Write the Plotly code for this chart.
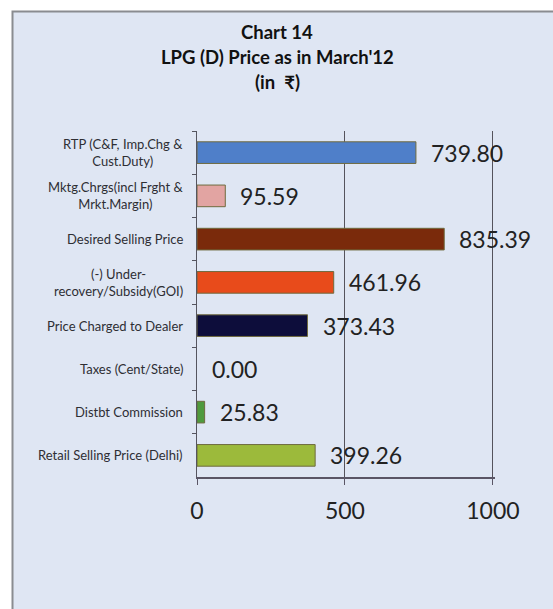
import plotly.graph_objects as go

categories = [
    "RTP (C&F, Imp.Chg &<br>Cust.Duty)",
    "Mktg.Chrgs(incl Frght &<br>Mrkt.Margin)",
    "Desired Selling Price",
    "(-) Under-<br>recovery/Subsidy(GOI)",
    "Price Charged to Dealer",
    "Taxes (Cent/State)",
    "Distbt Commission",
    "Retail Selling Price (Delhi)",
]
values = [739.80, 95.59, 835.39, 461.96, 373.43, 0.00, 25.83, 399.26]
value_labels = ["739.80", "95.59", "835.39", "461.96", "373.43", "0.00", "25.83", "399.26"]
bar_colors = ["#4f7fc9", "#e2a4a2", "#7a2a0b", "#e84b1b", "#0d0d3b", "#888888", "#4f9a3d", "#9cba3b"]
x_ticks = [0, 500, 1000]
title_lines = ["<b>Chart 14</b>", "<b>LPG (D) Price as in March'12</b>", "<b>(in  ₹)</b>"]

FONT = "Lato, 'Noto Sans', 'DejaVu Sans', sans-serif"

W, H = 553, 609
L, R, T, B = 197, 58, 131, 132
pw, ph = W - L - R, H - T - B

def px_x(p):
    return (p - L) / pw

def px_y(p):
    return (H - B - p) / ph

fig = go.Figure()
fig.add_trace(go.Bar(
    x=values, y=categories, orientation="h", width=0.5,
    marker=dict(color=bar_colors,
                line=dict(color="#6f6a3e", width=[1 if v > 0 else 0 for v in values])),
    hoverinfo="skip",
))

annotations = []
for c, v, t in zip(categories, values, value_labels):
    annotations.append(dict(
        x=v, y=c, xref="x", yref="y", text=t, showarrow=False,
        xanchor="left", yanchor="middle", xshift=13,
        font=dict(family=FONT, size=23, color="#222222"),
    ))
    annotations.append(dict(
        x=0, y=c, xref="paper", yref="y", text=c, showarrow=False,
        xanchor="right", yanchor="middle", xshift=-12, align="center",
        font=dict(family=FONT, size=13, color="#2e2e33"),
    ))
for i, (line, py) in enumerate(zip(title_lines, [32, 57, 82])):
    annotations.append(dict(
        x=px_x(277), y=px_y(py), xref="paper", yref="paper", text=line,
        showarrow=False, xanchor="center", yanchor="middle",
        font=dict(family=FONT, size=18.5, color="#111111"),
    ))

fig.update_layout(
    width=W, height=H,
    margin=dict(l=L, r=R, t=T, b=B, pad=0),
    paper_bgcolor="white",
    plot_bgcolor="rgba(0,0,0,0)",
    showlegend=False,
    annotations=annotations,
    shapes=[dict(
        type="rect", xref="paper", yref="paper", layer="below",
        x0=px_x(12.5), x1=px_x(600), y0=px_y(640), y1=px_y(11.5),
        fillcolor="#dfe6f3", line=dict(color="#8a8c90", width=2),
    )],
    xaxis=dict(
        range=[0, 1007], tickvals=x_ticks, ticktext=[str(v) for v in x_ticks],
        showgrid=True, gridcolor="#55535c", gridwidth=1,
        showline=True, linecolor="#5a5565", linewidth=1.5,
        ticks="outside", ticklen=6, tickcolor="#5a5565",
        tickfont=dict(family=FONT, size=23, color="#222222"),
        ticklabelstandoff=7, zeroline=False, fixedrange=True,
    ),
    yaxis=dict(
        type="category", categoryorder="array", categoryarray=categories,
        autorange="reversed", showticklabels=False,
        showline=True, linecolor="#55555f", linewidth=1,
        ticks="outside", ticklen=4, tickcolor="#55555f", tickson="boundaries",
        showgrid=False, zeroline=False, fixedrange=True,
    ),
)

fig.write_html("out.html", post_script="document.body.style.margin='0';",
               config={"displayModeBar": False})
